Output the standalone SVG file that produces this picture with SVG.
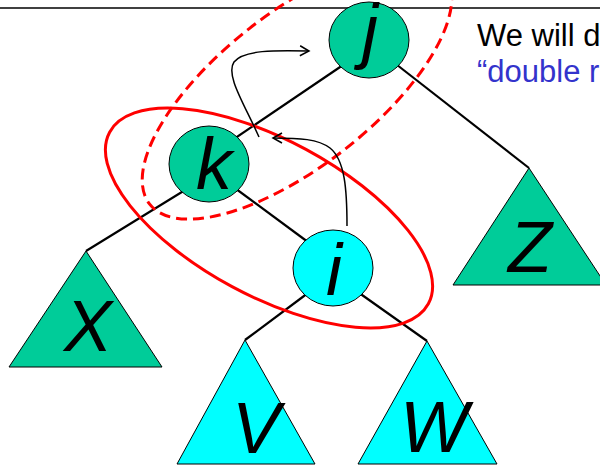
<svg xmlns="http://www.w3.org/2000/svg" width="600" height="465" viewBox="0 0 600 465">
<defs>
<style>
.edge{stroke:#000;stroke-width:2.2;fill:none}
.g{fill:#00CC99;stroke:#000;stroke-width:1}
.c{fill:#00FFFF;stroke:#000;stroke-width:1}
.lbl{font-family:"Liberation Sans",Arial,sans-serif;font-style:italic;font-size:72px;fill:#000;text-anchor:middle}
.red{fill:none;stroke:#FF0000;stroke-width:3}
.dash{stroke-dasharray:11 6}
.arr{fill:none;stroke:#000;stroke-width:1.5;marker-end:url(#open)}
.txt{font-family:"Liberation Sans",Arial,sans-serif;font-size:31px}
</style>
<marker id="open" viewBox="0 0 12 12" refX="10" refY="6" markerWidth="12" markerHeight="12" markerUnits="userSpaceOnUse" orient="auto">
<path d="M1,1 L10,6 L1,11" fill="none" stroke="#000" stroke-width="1.5"/>
</marker>
</defs>
<rect width="600" height="465" fill="#fff"/>
<line x1="0" y1="8" x2="600" y2="8" stroke="#000" stroke-width="1.5"/>
<g id="connectors">
<line class="edge" x1="346" y1="63" x2="228" y2="143"/>
<line class="edge" x1="392" y1="61" x2="529" y2="168"/>
<line class="edge" x1="190" y1="187" x2="86" y2="251"/>
<line class="edge" x1="228" y1="183" x2="312" y2="245"/>
<line class="edge" x1="312" y1="290" x2="245" y2="340"/>
<line class="edge" x1="355" y1="290" x2="427" y2="341"/>
</g>
<g id="X"><polygon class="g" points="86,251 9,367 162,367"/><text class="lbl" x="88" y="351">X</text></g>
<g id="Z"><polygon class="g" points="529,168 453,285 606,285"/><text class="lbl" x="530" y="272">Z</text></g>
<g id="V"><polygon class="c" points="245,340 177,464 315,464"/><text class="lbl" x="256" y="453">V</text></g>
<g id="W"><polygon class="c" points="427,341 358,464 497,464"/><text class="lbl" x="434" y="452">W</text></g>
<g id="j"><ellipse class="g" cx="369" cy="40" rx="40" ry="38"/><text class="lbl" x="370" y="55">j</text></g>
<g id="k"><ellipse class="g" cx="209" cy="164" rx="40" ry="38"/><text class="lbl" x="214" y="189">k</text></g>
<g id="i"><ellipse class="c" cx="333" cy="268" rx="40" ry="38"/><text class="lbl" x="334" y="295">i</text></g>
<g id="groups">
<ellipse class="red" cx="269" cy="218" rx="181" ry="78" transform="rotate(28.3 269 218)"/>
<ellipse class="red dash" cx="297" cy="89" rx="187" ry="77" transform="rotate(-38 297 89)"/>
</g>
<g id="arrows">
<path class="arr" d="M259,137 C245,105 225,75 234,62 C243,50 275,50 309,51"/>
<path class="arr" d="M347,226 C347,190 345,160 330,148 C318,139 300,138 273,138"/>
</g>
<g id="caption">
<text class="txt" x="477" y="46" fill="#000">We will d</text>
<text class="txt" x="477" y="82" fill="#3333CC">“double r</text>
</g>
</svg>
